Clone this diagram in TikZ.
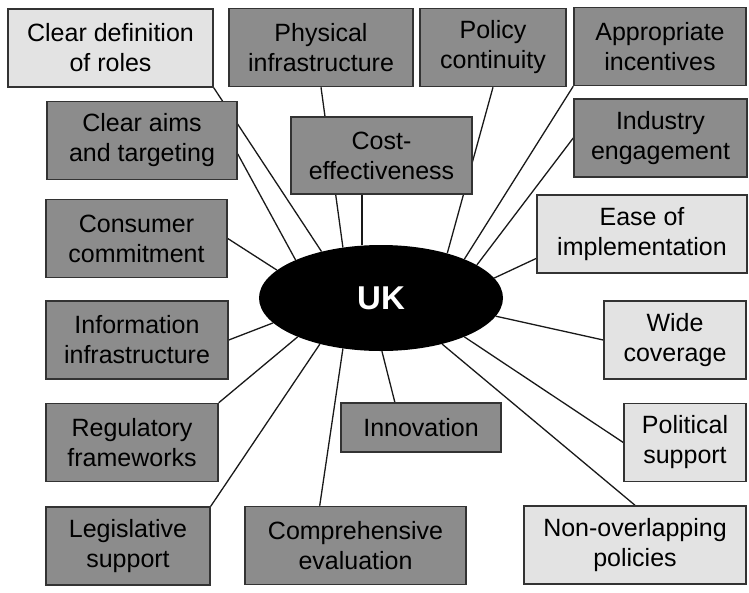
\documentclass[tikz,border=0pt]{standalone}
\usepackage{fontspec}
\setmainfont{Liberation Sans}
\usetikzlibrary{shapes.geometric}
\usetikzlibrary{backgrounds}

\begin{document}
\begin{tikzpicture}[x=1pt,y=-1pt]
		\tikzset{box/.style={shape = rectangle, draw = black!80, line width = 1.5pt, minimum height = 78pt, inner sep = 0pt, align = center, font = \fontsize{25}{30}\selectfont}}
		\tikzset{darkbox/.style={box, fill = black!45}}
		\tikzset{lightbox/.style={box, fill = black!11}}
		\tikzset{edge/.style={draw = black!90, line width = 1.3pt}}
		\useasboundingbox (0,0) rectangle (749,592);
		%hub
		\node[shape = ellipse, fill = black, text = white, minimum width = 244pt, minimum height = 106pt, inner sep = 0pt, font = \fontsize{33}{33}\selectfont\bfseries] (uk) at (381,298) {UK};
		%vertices
		\node[lightbox, minimum width = 205pt] (roles) at (110.5,48) {Clear definition\\of roles};
		\node[darkbox, minimum width = 184pt] (physical) at (321,47.5) {Physical\\infrastructure};
		\node[darkbox, minimum width = 146pt] (policy) at (493,47.5) {Policy\\continuity};
		\node[darkbox, minimum width = 172pt] (incentives) at (660,46.5) {Appropriate\\incentives};
		\node[darkbox, minimum width = 190pt] (aims) at (142,140.5) {Clear aims\\and targeting};
		\node[darkbox, minimum width = 181pt, minimum height = 77pt] (cost) at (381.5,155.5) {Cost-\\effectiveness};
		\node[darkbox, minimum width = 173pt] (industry) at (660.5,138) {Industry\\engagement};
		\node[darkbox, minimum width = 181pt] (consumer) at (136.5,238.5) {Consumer\\commitment};
		\node[lightbox, minimum width = 210pt] (ease) at (642,234) {Ease of\\implementation};
		\node[darkbox, minimum width = 182pt] (info) at (137,340) {Information\\infrastructure};
		\node[lightbox, minimum width = 142pt] (wide) at (675,340) {Wide\\coverage};
		\node[darkbox, minimum width = 160pt, minimum height = 49pt] (innovation) at (421,427.5) {Innovation};
		\node[darkbox, minimum width = 172pt] (regulatory) at (132,442.5) {Regulatory\\frameworks};
		\node[lightbox, minimum width = 122pt] (political) at (685,442.5) {Political\\support};
		\node[darkbox, minimum width = 164pt] (legislative) at (128,546) {Legislative\\support};
		\node[darkbox, minimum width = 221pt] (evaluation) at (355.5,545.5) {Comprehensive\\evaluation};
		\node[lightbox, minimum width = 222pt] (overlap) at (635,545) {Non-overlapping\\policies};
		%edges
		\begin{pgfonlayer}{background}
		\draw[edge] (roles.south east) -- (uk.142);
		\draw[edge] (physical.south) -- (uk.127);
		\draw[edge] (policy.south) -- (uk.34);
		\draw[edge] (incentives.south west) -- (uk.25);
		\draw[edge] (aims.-8) -- (uk.156);
		\draw[edge] (uk.110 |- cost.south) -- (uk.110);
		\draw[edge] (industry.west) -- (uk.19);
		\draw[edge] (ease.193) -- (uk.10);
		\draw[edge] (consumer.east) -- (uk.165);
		\draw[edge] (info.east) -- (uk.193);
		\draw[edge] (wide.west) -- (uk.-9);
		\draw[edge] (regulatory.north east) -- (uk.205);
		\draw[edge] (political.west) -- (uk.-25);
		\draw[edge] (innovation.136) -- (uk.-89);
		\draw[edge] (legislative.north east) -- (uk.217);
		\draw[edge] (evaluation.132) -- (uk.233);
		\draw[edge] (overlap.north) -- (uk.-37);
		\end{pgfonlayer}
\end{tikzpicture}
\end{document}
